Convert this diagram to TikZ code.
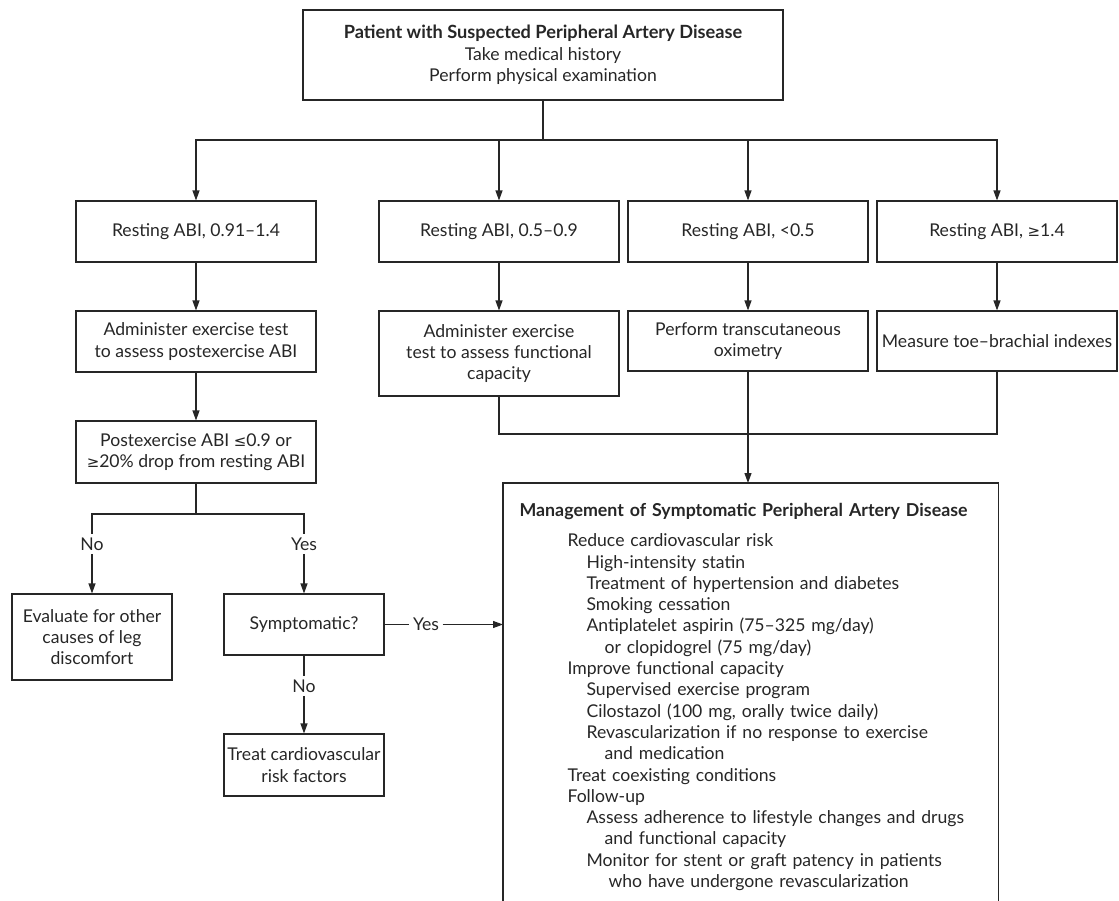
\documentclass[tikz,border=0pt]{standalone}
\usepackage{fontspec}
\setmainfont{Lato}
\newfontfamily\symfont{DejaVu Sans}[Scale=0.85]
\usetikzlibrary{arrows.meta, positioning}
\newcommand{\lsym}{{\symfont ≤}}
\newcommand{\gsym}{{\symfont ≥}}
\newcommand{\headfont}{\fontsize{18.2}{21.3}\selectfont\bfseries}
\tikzset{%
   % plain flow box, text centred
   box/.style={
      draw,
      rectangle,
      align=center,
      inner sep=2pt,
      minimum width=240pt,
      minimum height=61pt
   },
   sbox/.style={
      box,
      minimum width=160pt
   },
   lbl/.style={
      inner sep=3pt
   },
   arr/.style={
      -{Triangle[length=10pt,width=7pt]}
   },
}

\begin{document}
\begin{tikzpicture}[x=1pt, y=-1pt, line width=1.1pt, draw=black!85,
   font=\fontsize{17.6}{21.3}\selectfont, text=black!85]
  \useasboundingbox (0,0) rectangle (1119,900);
  \clip (0,0) rectangle (1119,900);

  \node[box, minimum width=480pt, minimum height=90pt] (top) at (543,55)
     {{\headfont Patient with Suspected Peripheral Artery Disease}\\
      Take medical history\\Perform physical examination};

  \node[box] (r1a) at (196,231.5) {Resting ABI, 0.91--1.4};
  \node[box] (r1b) at (499,231.5) {Resting ABI, 0.5--0.9};
  \node[box] (r1c) at (748,231.5) {Resting ABI, <0.5};
  \node[box] (r1d) at (997,231.5) {Resting ABI, \gsym1.4};

  \node[box] (r2a) at (196,341.5)
     {Administer exercise test\\to assess postexercise ABI};
  \node[box, minimum height=85pt] (r2b) at (499,353.5)
     {Administer exercise\\test to assess functional\\capacity};
  \node[box, minimum height=60pt] (r2c) at (748,341)
     {Perform transcutaneous\\oximetry};
  \node[box, minimum height=60pt] (r2d) at (997,341)
     {Measure toe--brachial indexes};

  \node[box, minimum height=62pt] (r3a) at (196,452)
     {Postexercise ABI \lsym0.9 or\\\gsym20\% drop from resting ABI};

  \node[sbox, minimum height=86pt] (eval) at (92,637)
     {Evaluate for other\\causes of leg\\discomfort};
  \node[sbox] (sympt) at (304,624.5) {Symptomatic?};
  \node[sbox, minimum height=62pt] (treat) at (304,765)
     {Treat cardiovascular\\risk factors};

  \node[anchor=north west, text width=462pt, align=left,
        inner xsep=16pt, inner ysep=20pt] (mgmt) at (503,483)
     {\mbox{\fontsize{17.8}{21.3}\selectfont\bfseries Management of Symptomatic Peripheral Artery Disease}\\[8.7pt]
      \hspace*{48pt}Reduce cardiovascular risk\\
      \hspace*{67pt}High-intensity statin\\
      \hspace*{67pt}Treatment of hypertension and diabetes\\
      \hspace*{67pt}Smoking cessation\\
      \hspace*{67pt}Antiplatelet aspirin (75--325 mg/day)\\
      \hspace*{85pt}or clopidogrel (75 mg/day)\\
      \hspace*{48pt}Improve functional capacity\\
      \hspace*{67pt}Supervised exercise program\\
      \hspace*{67pt}Cilostazol (100 mg, orally twice daily)\\
      \hspace*{67pt}Revascularization if no response to exercise\\
      \hspace*{85pt}and medication\\
      \hspace*{48pt}Treat coexisting conditions\\
      \hspace*{48pt}Follow-up\\
      \hspace*{67pt}Assess adherence to lifestyle changes and drugs\\
      \hspace*{85pt}and functional capacity\\
      \hspace*{67pt}Monitor for stent or graft patency in patients\\
      \hspace*{89pt}who have undergone revascularization};
  % open at the bottom, runs off the page
  \draw (mgmt.north west) ++(0,430) -- (mgmt.north west) -- (mgmt.north east) -- ++(0,430);

  \coordinate (hub) at (543,140);
  \coordinate (join) at (748,434);
  \coordinate (split) at (196,514);

  \node[lbl] (no1)  at (92,544)  {No};
  \node[lbl] (yes1) at (304,544) {Yes};
  \node[lbl] (yes2) at (426,624.5) {Yes};
  \node[lbl] (no2)  at (304,686) {No};

  % top split
  \draw (top) -- (hub);
  \draw[arr] (hub) -| (r1a);
  \draw[arr] (hub) -| (r1d);
  \draw[arr] (r1b|-hub) -- (r1b);
  \draw[arr] (r1c|-hub) -- (r1c);

  \draw[arr] (r1a) -- (r2a);
  \draw[arr] (r1b) -- (r2b);
  \draw[arr] (r1c) -- (r2c);
  \draw[arr] (r1d) -- (r2d);
  \draw[arr] (r2a) -- (r3a);

  % join into management
  \draw (r2b.south) |- (join) -| (r2d.south);
  \draw[arr] (r2c.south) -- (r2c.south|-mgmt.north);

  % left decision
  \draw (r3a) -- (split);
  \draw (split) -| (no1);
  \draw (split) -| (yes1);
  \draw[arr] (no1) -- (eval);
  \draw[arr] (yes1) -- (sympt);
  \draw (sympt) -- (yes2);
  \draw[arr] (yes2) -- (yes2-|mgmt.west);
  \draw (sympt) -- (no2);
  \draw[arr] (no2) -- (treat);
\end{tikzpicture}
\end{document}
